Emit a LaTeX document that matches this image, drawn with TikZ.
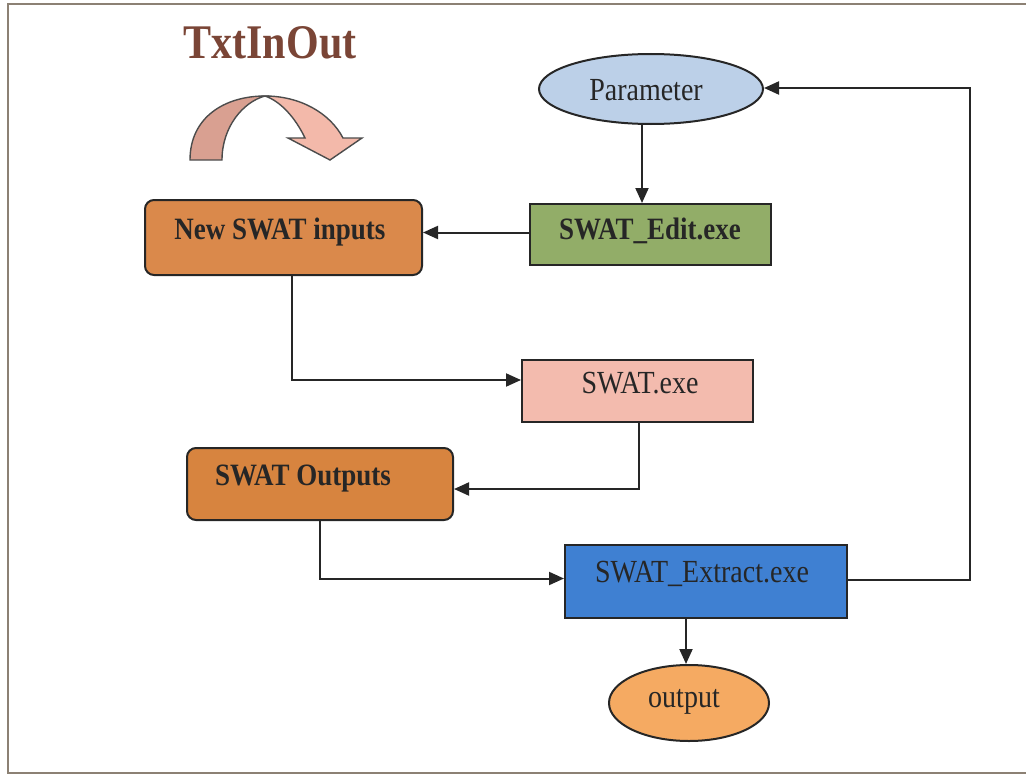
\documentclass[tikz,border=0pt]{standalone}
\usepackage{fontspec}
\setmainfont{Liberation Serif}
\usetikzlibrary{arrows.meta,shapes.geometric,calc}
\definecolor{framecol}{HTML}{8C8174}
\definecolor{titlecol}{HTML}{7A4536}
\definecolor{paramfill}{HTML}{BCD0E8}
\definecolor{editfill}{HTML}{92AD68}
\definecolor{inputfill}{HTML}{DA894B}
\definecolor{exefill}{HTML}{F3BBAE}
\definecolor{outputsfill}{HTML}{D7843F}
\definecolor{extractfill}{HTML}{3F80D2}
\definecolor{outfill}{HTML}{F5AA62}
\definecolor{arcdark}{HTML}{D9A091}
\definecolor{arclight}{HTML}{F3B9AA}
\definecolor{ink}{HTML}{262626}
\newcommand{\tallt}[1]{\scalebox{1}[1.15]{#1}}
\begin{document}
\begin{tikzpicture}[x=1pt,y=-1pt,
  box/.style={draw=ink,line width=2pt,inner sep=0pt},
  rbox/.style={box,rectangle,rounded corners=9pt},
  sbox/.style={box,rectangle},
  ell/.style={box,ellipse},
  conn/.style={draw=ink,line width=2pt,-{Triangle[length=15pt,width=13pt]}},
  lbl/.style={inner sep=0pt,text=ink,font=\fontsize{28}{30}\selectfont},
  blbl/.style={inner sep=0pt,text=ink,font=\bfseries\fontsize{27}{30}\selectfont}]
\useasboundingbox (0,0) rectangle (1026,776);
% frame
\draw[framecol,line width=2.5pt] (1030,4) -- (8,4) -- (8,773) -- (1030,773);
% title
\node[inner sep=0pt,text=titlecol,font=\bfseries\fontsize{42}{46}\selectfont] (title) at (270,43) {\tallt{TxtInOut}};
% curved arrow
\filldraw[fill=arcdark,draw=black!70,line width=1.4pt]
  (190,160) .. controls (190,117) and (225,96) .. (265,96)
  .. controls (243,102) and (222,127) .. (222,160) -- cycle;
\filldraw[fill=arclight,draw=black!70,line width=1.4pt]
  (265,96) .. controls (300,96) and (330,113) .. (343,138)
  -- (362,138) -- (330,160) -- (288,138) -- (305,138)
  .. controls (295,117) and (280,101) .. (265,96) -- cycle;
% nodes
\node[ell,fill=paramfill,minimum width=224pt,minimum height=70pt] (param) at (651,89) {};
\node[lbl] (paramt) at (646,90) {\tallt{Parameter}};
\node[sbox,fill=editfill,minimum width=241pt,minimum height=61pt] (edit) at (650.5,234.5) {};
\node[blbl] (editt) at (650,231) {\tallt{SWAT\_Edit.exe}};
\node[rbox,fill=inputfill,minimum width=277pt,minimum height=75pt] (inputs) at (283.5,237.5) {};
\node[blbl] (inputst) at (280,232) {\tallt{New SWAT inputs}};
\node[sbox,fill=exefill,minimum width=231pt,minimum height=62pt] (sexe) at (637.5,391) {};
\node[lbl] (sexet) at (640,383) {\tallt{SWAT.exe}};
\node[rbox,fill=outputsfill,minimum width=266pt,minimum height=72pt] (outputs) at (320,484) {};
\node[blbl] (outputst) at (303,479) {\tallt{SWAT Outputs}};
\node[sbox,fill=extractfill,minimum width=282pt,minimum height=73pt] (extract) at (706,581.5) {};
\node[lbl] (extractt) at (702,574) {\tallt{SWAT\_Extract.exe}};
\node[ell,fill=outfill,minimum width=160pt,minimum height=76pt] (out) at (689,703) {};
\node[lbl] (outt) at (684,702) {\tallt{output}};
% connectors
\coordinate (pin) at (642,124);
\draw[conn] (param.south -| pin) -- (edit.north -| pin);
\draw[conn] ($(edit.west)+(0,-2)$) -- ($(inputs.east)+(0,-5)$);
\draw[conn] ($(inputs.south)+(8,0)$) |- ($(sexe.west)+(0,-11)$);
\draw[conn] ($(sexe.south)+(1,0)$) |- ($(outputs.east)+(0,5)$);
\draw[conn] (outputs.south) |- ($(extract.west)+(0,-3)$);
\coordinate (loop) at (970,580);
\draw[conn] (extract.east |- loop) -- (loop) |- ($(param.east)+(0,-1)$);
\draw[conn] (extract.south -| 686,0) -- (out.north -| 686,0);
\end{tikzpicture}
\end{document}
